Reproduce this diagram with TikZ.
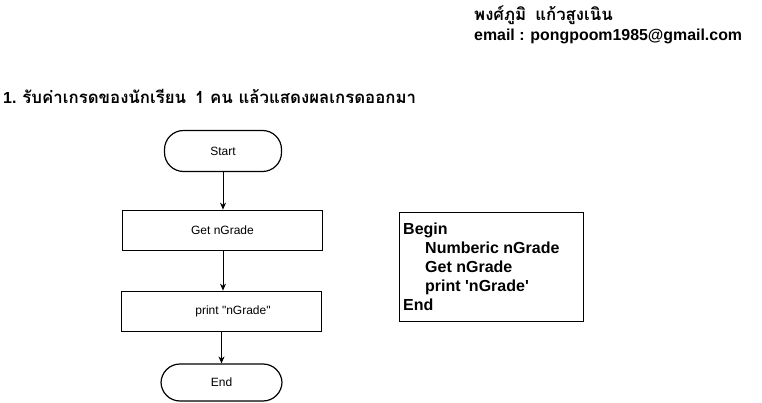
\documentclass[tikz,border=0pt]{standalone}
\usepackage{fontspec}
\usetikzlibrary{arrows.meta}
\newfontfamily\arialfont{Liberation Sans}
\newfontfamily\thaifont[Script=Thai]{Loma}
\setmainfont{Liberation Sans}
\newcommand\thaibig{\thaifont\bfseries\fontsize{16.8}{19}\selectfont}
\begin{document}
\begin{tikzpicture}[x=1pt,y=-1pt,
  term/.style={draw, line width=1.2pt, rounded corners=19pt, minimum width=117pt, minimum height=41pt, inner sep=0pt, font=\arialfont\fontsize{12}{14}\selectfont},
  proc/.style={draw, line width=0.8pt, minimum width=200pt, minimum height=40pt, inner sep=0pt, font=\arialfont\fontsize{12}{14}\selectfont},
  conn/.style={draw, line width=0.8pt, -{Stealth[length=7pt,width=6pt]}},
  boldtext/.style={font=\arialfont\bfseries\fontsize{16}{18}\selectfont, inner sep=0pt}
]
\useasboundingbox (0,0) rectangle (762,403);

\node[boldtext, anchor=base west] (title) at (3,104) {1. {\thaibig รับค่าเกรดของนักเรียน\hspace{9pt}1 คน แล้วแสดงผลเกรดออกมา}};
\node[boldtext, anchor=base west] (name) at (474,21) {{\thaibig พงศ์ภูมิ\hspace{9pt}แก้วสูงเนิน}};
\node[boldtext, anchor=base west, font=\arialfont\bfseries\fontsize{15.9}{18}\selectfont] (email) at (474,41) {email : pongpoom1985@gmail.com};

\node[term] (start) at (223,151) {Start};
\node[proc] (get) at (222.5,230) {Get nGrade};
\node[proc] (prt) at (221.5,311) {\hspace*{23pt}print "nGrade"};
\node[term, minimum width=121pt, minimum height=37pt] (end) at (221.5,382.5) {End};

\draw[conn] (start.south) -- (start.south |- get.north);
\draw[conn] ([xshift=0.5pt]get.south) -- ([xshift=0.5pt]get.south |- prt.north);
\draw[conn] (prt.south) -- (end.north);

\node[draw, line width=0.8pt, minimum width=184pt, minimum height=108pt, anchor=north west] (code) at (398.5,212.5) {};
\node[boldtext, anchor=base west, align=left, font=\arialfont\bfseries\fontsize{16}{19}\selectfont] (codetext) at (403,310) {Begin\\
\hspace*{22pt}Numberic nGrade\\
\hspace*{22pt}Get nGrade\\
\hspace*{22pt}print 'nGrade'\\
End};
\end{tikzpicture}
\end{document}
